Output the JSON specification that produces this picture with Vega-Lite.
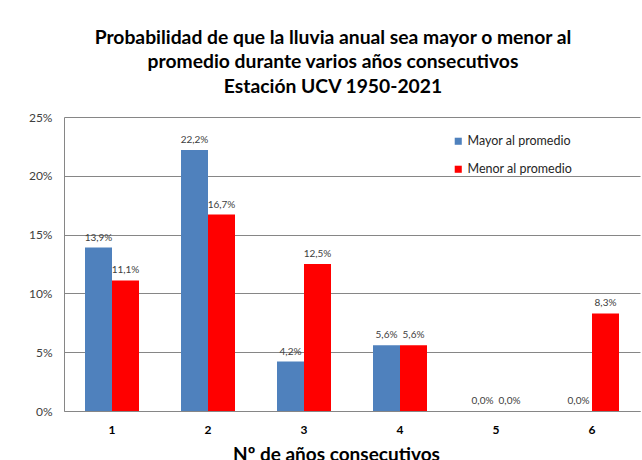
{
  "$schema": "https://vega.github.io/schema/vega-lite/v6.json",
  "width": 576,
  "height": 294,
  "autosize": {"type": "none"},
  "padding": {"left": 64, "top": 117, "right": 2, "bottom": 49},
  "background": "white",
  "config": {
    "locale": {"number": {"decimal": ",", "thousands": ".", "grouping": [3], "currency": ["", " €"]}},
    "font": "Lato",
    "view": {"stroke": null}
  },
  "title": {
    "text": ["Probabilidad de que la lluvia anual sea mayor o menor al", "promedio durante varios años consecutivos", "Estación UCV 1950-2021"],
    "font": "Lato",
    "fontSize": 19.3,
    "fontWeight": "bold",
    "lineHeight": 24.5,
    "anchor": "middle",
    "dx": -19,
    "offset": 14,
    "color": "#000000"
  },
  "data": {
    "values": [
      {"n": "1", "serie": "Mayor al promedio", "valor": 0.139},
      {"n": "1", "serie": "Menor al promedio", "valor": 0.111},
      {"n": "2", "serie": "Mayor al promedio", "valor": 0.222},
      {"n": "2", "serie": "Menor al promedio", "valor": 0.167},
      {"n": "3", "serie": "Mayor al promedio", "valor": 0.042},
      {"n": "3", "serie": "Menor al promedio", "valor": 0.125},
      {"n": "4", "serie": "Mayor al promedio", "valor": 0.056},
      {"n": "4", "serie": "Menor al promedio", "valor": 0.056},
      {"n": "5", "serie": "Mayor al promedio", "valor": 0.0},
      {"n": "5", "serie": "Menor al promedio", "valor": 0.0},
      {"n": "6", "serie": "Mayor al promedio", "valor": 0.0},
      {"n": "6", "serie": "Menor al promedio", "valor": 0.083}
    ]
  },
  "encoding": {
    "x": {
      "field": "n",
      "type": "ordinal",
      "scale": {"paddingInner": 0.4375, "paddingOuter": 0.21875},
      "axis": {
        "title": "Nº de años consecutivos",
        "titleFont": "Lato",
        "titleFontSize": 19,
        "titleFontWeight": "bold",
        "titleColor": "#000000",
        "titleX": 272,
        "titleY": 34,
        "titleBaseline": "top",
        "labelAngle": 0,
        "labelFontSize": 12,
        "labelFontWeight": "bold",
        "labelColor": "#000000",
        "labelPadding": 13,
        "ticks": false,
        "domainColor": "#868686",
        "grid": false
      }
    },
    "xOffset": {"field": "serie", "type": "nominal", "sort": ["Mayor al promedio", "Menor al promedio"]},
    "y": {
      "field": "valor",
      "type": "quantitative",
      "scale": {"domain": [0, 0.25], "nice": false},
      "axis": {
        "title": null,
        "format": ".0%",
        "values": [0, 0.05, 0.1, 0.15, 0.2, 0.25],
        "labelFontSize": 12,
        "labelColor": "#404040",
        "labelPadding": 12,
        "ticks": false,
        "domain": true,
        "domainColor": "#868686",
        "grid": true,
        "gridColor": "#868686",
        "gridOpacity": 1
      }
    }
  },
  "layer": [
    {
      "mark": {"type": "bar"},
      "encoding": {
        "color": {
          "field": "serie",
          "type": "nominal",
          "scale": {"domain": ["Mayor al promedio", "Menor al promedio"], "range": ["#4F81BD", "#FF0000"]},
          "legend": {
            "title": null,
            "orient": "none",
            "legendX": 388,
            "legendY": 18,
            "symbolType": "square",
            "symbolSize": 50,
            "symbolStrokeWidth": 0,
            "labelFontSize": 12.5,
            "labelColor": "#262626",
            "labelOffset": 3,
            "rowPadding": 15
          }
        }
      }
    },
    {
      "mark": {"type": "text", "baseline": "bottom", "dy": -5, "fontSize": 10, "color": "#404040"},
      "encoding": {
        "text": {"field": "valor", "type": "quantitative", "format": ".1%"}
      }
    }
  ]
}
